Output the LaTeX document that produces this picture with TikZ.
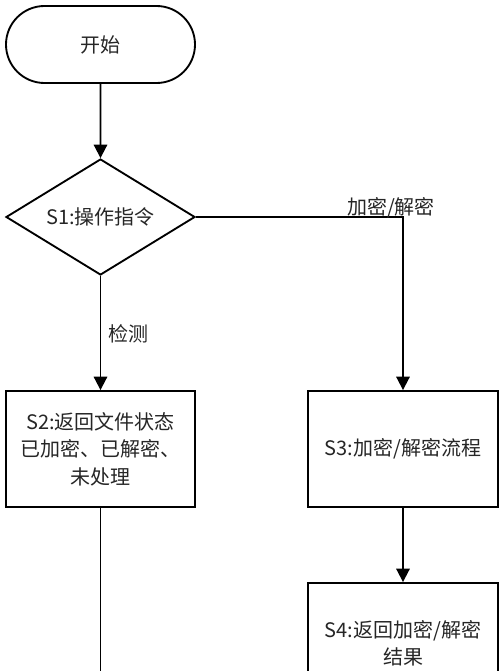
\documentclass[tikz,border=0pt]{standalone}
\usepackage{fontspec}
\setmainfont{Noto Sans CJK SC}
\usetikzlibrary{shapes.misc,shapes.geometric,arrows.meta}
\begin{document}
\begin{tikzpicture}[x=0.75pt,y=-0.75pt,
  line width=1.4pt,
  every node/.style={font=\fontsize{15}{20.5}\selectfont, text=black!85},
  boxstyle/.style={draw, rectangle, inner sep=0pt, minimum width=141.75pt, minimum height=87pt, align=center},
  termstyle/.style={draw, rounded rectangle, inner sep=0pt, minimum width=141.75pt, minimum height=57.75pt},
  decstyle/.style={draw, diamond, shape aspect=1.63, inner sep=0pt, minimum width=141.75pt, minimum height=87pt},
  arr/.style={-{Triangle[length=10pt,width=10pt]}},
  lbl/.style={inner sep=0pt}
]
\useasboundingbox (0,0) rectangle (500,671);
\clip (0,0) rectangle (500,671);
\fill[white] (0,0) rectangle (500,671);
\node[termstyle] (start) at (100.5,44.5) {开始};
\node[decstyle] (s1) at (100.5,217) {S1:操作指令};
\node[boxstyle] (s2) at (100.5,449) {S2:返回文件状态\\已加密、已解密、\\未处理};
\node[boxstyle, minimum width=142.5pt] (s3) at (403,449) {S3:加密/解密流程};
\node[boxstyle, minimum width=142.5pt, minimum height=90pt] (s4) at (403,643) {S4:返回加密/解密\\结果};
\coordinate (end) at (100.5,700);
\draw[arr] (start) -- (s1);
\draw[arr] (s1) -- (s2);
\draw[arr] (s1.east) -| (s3.north);
\draw[arr] (s3) -- (s4);
\draw (s2.south) -- (end);
\node[lbl] (l1) at (391,208) {加密/解密};
\node[lbl] (l2) at (128,334) {检测};
\end{tikzpicture}
\end{document}
